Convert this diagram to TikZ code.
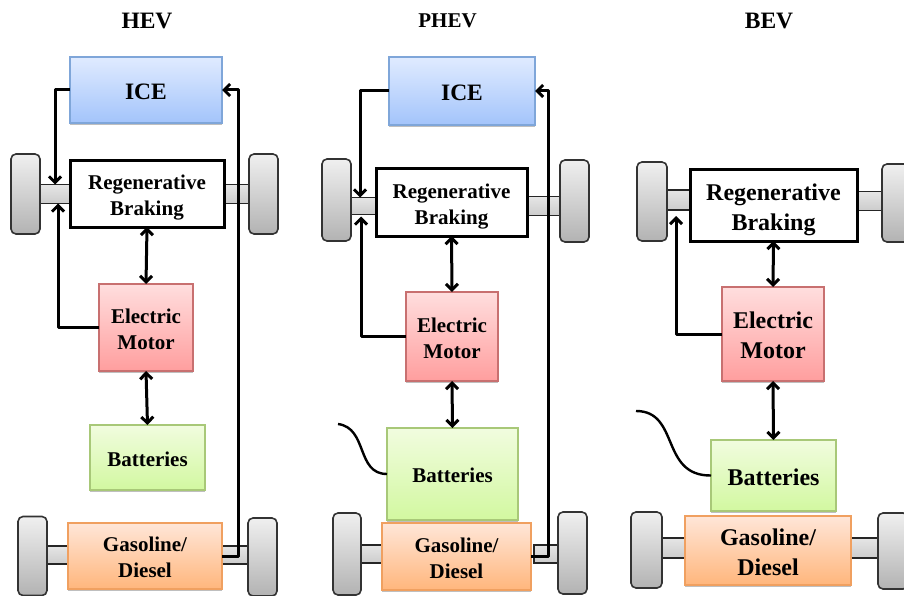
\documentclass[tikz,border=0pt]{standalone}
\usepackage{fontspec}
\setmainfont{Liberation Serif}
\usetikzlibrary{arrows.meta,shadows}
\definecolor{iceline}{HTML}{7FA6D9}
\definecolor{icetop}{HTML}{E0EBFF}
\definecolor{icebot}{HTML}{A3C4FB}
\definecolor{motorline}{HTML}{C87070}
\definecolor{motortop}{HTML}{FFDEDE}
\definecolor{motorbot}{HTML}{FF9E9E}
\definecolor{batline}{HTML}{A8C878}
\definecolor{battop}{HTML}{F1FCDF}
\definecolor{batbot}{HTML}{D2F8A0}
\definecolor{gasline}{HTML}{F0A060}
\definecolor{gastop}{HTML}{FFE6D8}
\definecolor{gasbot}{HTML}{FFB67C}
\newcommand{\regtop}{\rule{0pt}{1.06em}}
\newcommand{\boxtop}{\rule{0pt}{.82em}}

\begin{document}
\begin{tikzpicture}[
  x=1pt, y=-1pt,
  font=\fontsize{21}{26}\selectfont\bfseries,
  sz/.style 2 args={minimum width=#1pt, minimum height=#2pt},
  blk/.style={draw, line width=1.2pt, inner sep=0pt, outer sep=0pt, align=center,
              drop shadow={shadow xshift=0pt, shadow yshift=-2pt, fill=black, opacity=.25}},
  ice/.style={blk, draw=iceline, top color=icetop, bottom color=icebot},
  motor/.style={blk, draw=motorline, top color=motortop, bottom color=motorbot},
  bat/.style={blk, draw=batline, top color=battop, bottom color=batbot},
  gas/.style={blk, draw=gasline, top color=gastop, bottom color=gasbot},
  regen/.style={draw, line width=3pt, fill=white, inner sep=0pt, outer sep=0pt, align=center},
  wheel/.style={draw=black!80, line width=1.6pt, rounded corners=5pt, inner sep=0pt,
                top color=black!6, bottom color=black!30},
  axle/.style={draw=black!85, line width=1.1pt, inner sep=0pt, outer sep=0pt,
               top color=black!10, bottom color=black!20},
  ar/.style={-{Straight Barb[length=6pt,width=12pt]}, line width=3pt, line join=round},
  biar/.style={{Straight Barb[length=6pt,width=12pt]}-{Straight Barb[length=6pt,width=12pt]},
               line width=3pt},
  cable/.style={line width=2.4pt},
  big/.style={font=\fontsize{24}{30}\selectfont\bfseries},
  ttl/.style={font=\fontsize{23.5}{26}\selectfont\bfseries},
]
\useasboundingbox (0,0) rectangle (904,596);

% axles and wheels: name/x/y/w/h
\foreach \n/\x/\y/\w/\h in {hax1/55/194/32/19, hax2/237/194/26/19, hax3/57/555/24/18, hax4/235/555/28/18,
    pax1/363/206/26/17, pax2/544/206/34/19, pax3/371/554/22/18, pax4/546/554/24/18,
    bax1/678/200/24/20, bax2/870/201/26/19, bax3/673/548/24/20, bax4/865/548/28/20} {
  \node[axle, sz={\w}{\h}] (\n) at (\x,\y) {};
}
\foreach \n/\x/\y/\w/\h in {hwh1/25.5/194/29/80, hwh2/263.5/194/29/80, hwh3/32.5/556/29/79, hwh4/262.5/557/29/78,
    pwh1/336.5/200/29/82, pwh2/574.5/201/29/82, pwh3/347/554/28/82, pwh4/572.5/553/29/82,
    bwh1/652/201.5/30/79, bwh2/897/203/30/78, bwh3/646.5/550/31/76, bwh4/893/551/30/76} {
  \node[wheel, sz={\w}{\h}] (\n) at (\x,\y) {};
}

% HEV
\node[ttl] (hevt) at (147,21) {HEV};
\node[ice, sz={152}{66}, ttl] (hice) at (146,90) {\boxtop ICE};
\node[regen, sz={154}{66}] (hreg) at (147,194) {\regtop Regenerative\\Braking};
\node[motor, sz={94}{87}] (hmot) at (146,327.5) {\boxtop Electric\\Motor};
\node[bat, sz={115}{65}] (hbat) at (147.5,457.5) {\boxtop Batteries};
\node[gas, sz={154}{66}] (hgas) at (145,556) {\boxtop Gasoline/\\Diesel};
\draw[ar] (hice.west) -| (hax1.north);
\draw[ar] (hmot.west) -| ([xshift=3pt]hax1.south);
\draw[ar] (hgas.east) -- ++(16,0) |- (hice.east);
\draw[biar] (hreg.south) -- (hmot.north);
\draw[biar] (hmot.south) -- (hbat.north);

% PHEV
\node[font=\fontsize{21}{26}\selectfont\bfseries] (phevt) at (447.5,21) {PHEV};
\node[ice, sz={146}{68}, ttl] (pice) at (462,91) {\boxtop ICE};
\node[regen, sz={151}{67}] (preg) at (451.5,202.5) {\regtop Regenerative\\Braking};
\node[motor, sz={92}{89}] (pmot) at (452,336.5) {\boxtop Electric\\Motor};
\node[bat, sz={131}{92}] (pbat) at (452.5,474) {\boxtop Batteries};
\node[gas, sz={149}{67}] (pgas) at (456.5,556.5) {\boxtop Gasoline/\\Diesel};
\draw[ar] (pice.west) -| ([xshift=-3pt]pax1.north);
\draw[ar] (pmot.west) -| ([xshift=-2pt,yshift=-2pt]pax1.south);
\draw[ar] (pgas.east) -- ++(17,0) |- (pice.east);
\draw[biar] (preg.south) -- (pmot.north);
\draw[biar] (pmot.south) -- (pbat.north);
\coordinate (pcab) at (338,424);
\draw[cable] (pcab) .. controls (368,428) and (356,474) .. (pbat.west);

% BEV
\node[ttl] (bevt) at (769,21) {BEV};
\node[regen, sz={167}{71}, big] (breg) at (773.5,205.5) {\regtop Regenerative\\Braking};
\node[motor, sz={102}{94}, big] (bmot) at (773,334) {\boxtop Electric\\Motor};
\node[bat, sz={125}{71}, big] (bbat) at (773.5,475.5) {\boxtop Batteries};
\node[gas, sz={166}{69}, big] (bgas) at (768,550.5) {\boxtop Gasoline/\\Diesel};
\draw[ar] (bmot.west) -| ([xshift=-2pt,yshift=-6pt]bax1.south);
\draw[biar] (breg.south) -- (bmot.north);
\draw[biar] (bmot.south) -- (bbat.north);
\coordinate (bcab) at (636,411);
\draw[cable] (bcab) .. controls (680,411) and (660,476) .. (bbat.west);
\end{tikzpicture}
\end{document}
